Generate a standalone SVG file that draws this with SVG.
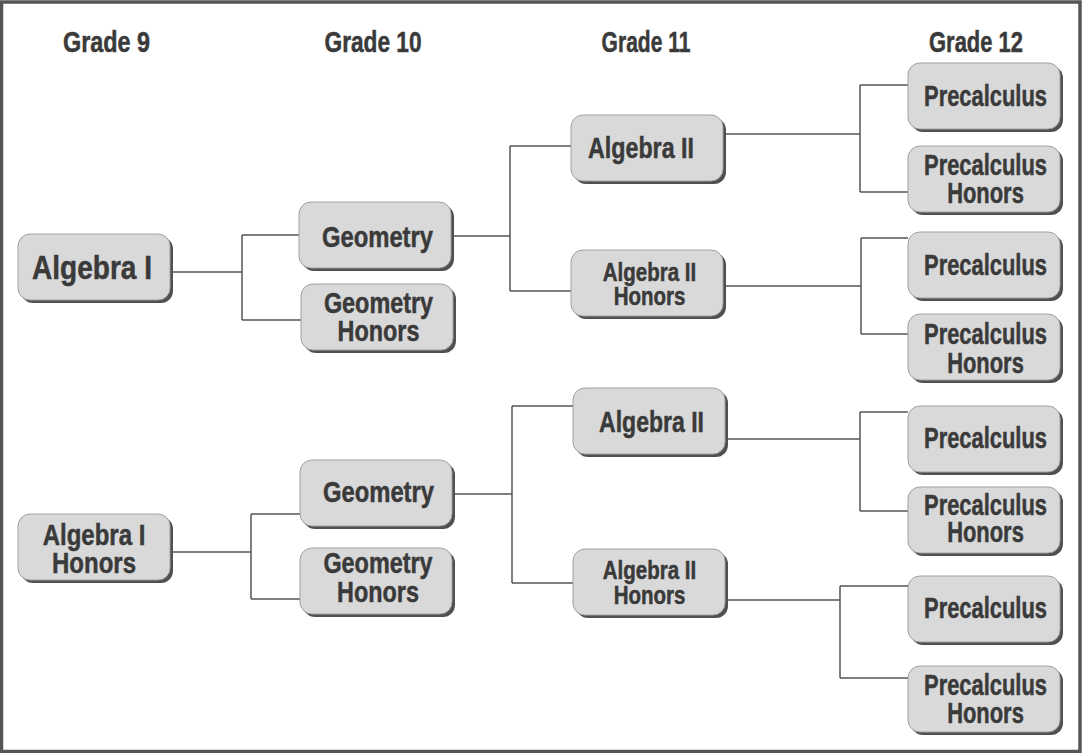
<svg xmlns="http://www.w3.org/2000/svg" width="1085" height="753" viewBox="0 0 1085 753">
<style>
.bx{fill:#d9d9d9;stroke:#a0a0a0;stroke-width:1}
.sh{fill:#505050}
.t{font-family:"Liberation Sans",Arial,sans-serif;font-weight:bold;fill:#3a3a3a;stroke:#3a3a3a;stroke-width:0.5;text-anchor:middle}
.h{font-size:29px}
.n{font-size:30px}
.s{font-size:25px}
.b{font-size:34px}
.c{fill:none;stroke:#555;stroke-width:1.5}
</style>
<defs>
<g id="box"><rect class="sh" x="3" y="3" width="152" height="66" rx="12"/><rect class="bx" x="0" y="0" width="152" height="66" rx="12"/></g>
</defs>
<rect x="0" y="0" width="1085" height="753" fill="#ffffff"/>
<rect x="1.5" y="2" width="1078.5" height="749.5" fill="none" stroke="#555" stroke-width="3.5"/>
<g id="headings">
<text class="t h" transform="translate(106.5 52) scale(0.806 1)">Grade 9</text>
<text class="t h" transform="translate(373 52) scale(0.782 1)">Grade 10</text>
<text class="t h" transform="translate(646 52) scale(0.725 1)">Grade 11</text>
<text class="t h" transform="translate(976 52) scale(0.757 1)">Grade 12</text>
</g>
<g id="connectors">
<path class="c" d="M170 272H242M242 235V320M242 235H299M242 320H301"/>
<path class="c" d="M170 552H251M251 514V599M251 514H301M251 599H300"/>
<path class="c" d="M451 236H510M510 146V291M510 146H571M510 291H571"/>
<path class="c" d="M452 494H512M512 406V583M512 406H573M512 583H573"/>
<path class="c" d="M723 134H860M860 85V192M860 85H908M860 192H908"/>
<path class="c" d="M723 286H861M861 238V334M861 238H908M861 334H908"/>
<path class="c" d="M726 439H860M860 412V511M860 412H908M860 511H908"/>
<path class="c" d="M726 600H840M840 586V678M840 586H908M840 678H908"/>
</g>
<g id="algebra1"><use href="#box" x="18" y="234"/><text class="t b" transform="translate(92 279) scale(0.825 1)">Algebra I</text></g>
<g id="algebra1h"><use href="#box" x="18" y="514"/><text class="t n" transform="translate(94 545) scale(0.8 1)"><tspan x="0" y="0">Algebra I</tspan><tspan x="0" y="28">Honors</tspan></text></g>
<g id="geo1"><use href="#box" x="299" y="202"/><text class="t n" transform="translate(377.5 247) scale(0.793 1)">Geometry</text></g>
<g id="geo1h"><use href="#box" x="301" y="284"/><text class="t n" transform="translate(378.5 313) scale(0.78 1)"><tspan x="0" y="0">Geometry</tspan><tspan x="0" y="28">Honors</tspan></text></g>
<g id="geo2"><use href="#box" x="300" y="460"/><text class="t n" transform="translate(378.5 502) scale(0.793 1)">Geometry</text></g>
<g id="geo2h"><use href="#box" x="300" y="548"/><text class="t n" transform="translate(378 573) scale(0.78 1)"><tspan x="0" y="0">Geometry</tspan><tspan x="0" y="29">Honors</tspan></text></g>
<g id="alg2a"><use href="#box" x="571" y="115"/><text class="t n" transform="translate(641 158) scale(0.775 1)">Algebra II</text></g>
<g id="alg2ah"><use href="#box" x="571" y="250"/><text class="t s" transform="translate(649.5 281) scale(0.82 1)"><tspan x="0" y="0">Algebra II</tspan><tspan x="0" y="24">Honors</tspan></text></g>
<g id="alg2b"><use href="#box" x="573" y="388"/><text class="t n" transform="translate(651.5 432) scale(0.768 1)">Algebra II</text></g>
<g id="alg2bh"><use href="#box" x="573" y="549"/><text class="t s" transform="translate(649.5 579) scale(0.82 1)"><tspan x="0" y="0">Algebra II</tspan><tspan x="0" y="25">Honors</tspan></text></g>
<g id="pre1"><use href="#box" x="908" y="63"/><text class="t n" transform="translate(985.5 106) scale(0.73 1)">Precalculus</text></g>
<g id="pre1h"><use href="#box" x="908" y="146"/><text class="t n" transform="translate(985.5 175) scale(0.73 1)"><tspan x="0" y="0">Precalculus</tspan><tspan x="0" y="28">Honors</tspan></text></g>
<g id="pre2"><use href="#box" x="908" y="232"/><text class="t n" transform="translate(985.5 275) scale(0.73 1)">Precalculus</text></g>
<g id="pre2h"><use href="#box" x="908" y="314"/><text class="t n" transform="translate(985.5 344) scale(0.73 1)"><tspan x="0" y="0">Precalculus</tspan><tspan x="0" y="29">Honors</tspan></text></g>
<g id="pre3"><use href="#box" x="908" y="406"/><text class="t n" transform="translate(985.5 448) scale(0.73 1)">Precalculus</text></g>
<g id="pre3h"><use href="#box" x="908" y="487"/><text class="t n" transform="translate(985.5 515) scale(0.73 1)"><tspan x="0" y="0">Precalculus</tspan><tspan x="0" y="27">Honors</tspan></text></g>
<g id="pre4"><use href="#box" x="908" y="576"/><text class="t n" transform="translate(985.5 618) scale(0.73 1)">Precalculus</text></g>
<g id="pre4h"><use href="#box" x="908" y="666"/><text class="t n" transform="translate(985.5 695) scale(0.73 1)"><tspan x="0" y="0">Precalculus</tspan><tspan x="0" y="28">Honors</tspan></text></g>
</svg>
